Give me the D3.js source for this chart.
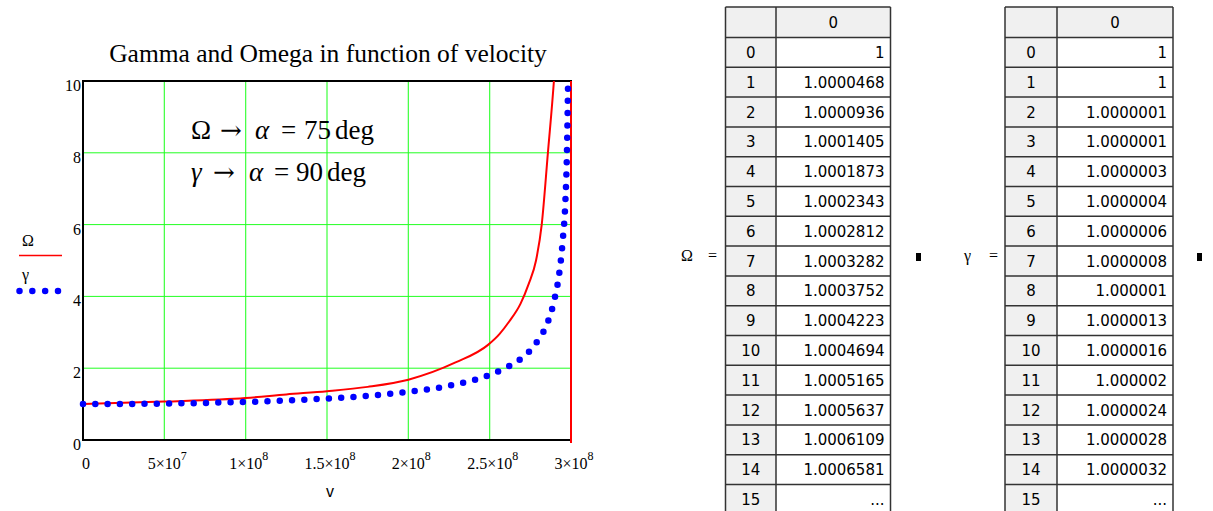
<!DOCTYPE html>
<html>
<head>
<meta charset="utf-8">
<script src="https://cdn.jsdelivr.net/npm/d3@7"></script>
<style>
  body { margin: 0; background: #fff; }
  svg { display: block; }
</style>
</head>
<body>
<div id="chart"></div>
<script>
// values (v in m/s)
const omegaV = [0, 5e7, 1e8, 1.25e8, 1.5e8, 1.75e8, 2e8, 2.29e8, 2.49e8, 2.56e8, 2.62e8, 2.69e8,
                2.74e8, 2.785e8, 2.82e8, 2.858e8, 2.895e8, 2.91e8, 2.95e8, 3e8, 3e8];
const omega  = [1, 1.07, 1.17, 1.27, 1.36, 1.48, 1.68, 2.16, 2.65, 2.95, 3.3, 3.8,
                4.35, 5.0, 6.0, 8.0, 10.0, 11.0, null, -1, 11];

const gammaV = [0, 2.5e7, 5e7, 7.5e7, 1e8, 1.25e8, 1.5e8, 1.75e8, 2e8, 2.25e8, 2.5e8,
                2.6e8, 2.7e8, 2.75e8, 2.8e8, 2.85e8, 2.9e8, 2.925e8, 2.95e8, 2.965e8,
                2.975e8, 2.985e8];
const gamma  = [1, 1.0035, 1.014, 1.033, 1.061, 1.098, 1.155, 1.23, 1.34, 1.51, 1.81,
                2.01, 2.29, 2.5, 2.8, 3.2, 3.95, 4.55, 5.6, 6.6, 8.0, 11.0];

const xTicks = [0, 5e7, 1e8, 1.5e8, 2e8, 2.5e8, 3e8];
const xTickBase = ['0', '5×10', '1×10', '1.5×10', '2×10', '2.5×10', '3×10'];
const xTickExp  = ['', '7', '8', '8', '8', '8', '8'];
const yTicks = [0, 2, 4, 6, 8, 10];

const rowIndex = d3.range(16);
const omegaTable = ['1', '1.0000468', '1.0000936', '1.0001405', '1.0001873', '1.0002343',
                    '1.0002812', '1.0003282', '1.0003752', '1.0004223', '1.0004694',
                    '1.0005165', '1.0005637', '1.0006109', '1.0006581', '...'];
const gammaTable = ['1', '1', '1.0000001', '1.0000001', '1.0000003', '1.0000004',
                    '1.0000006', '1.0000008', '1.000001', '1.0000013', '1.0000016',
                    '1.000002', '1.0000024', '1.0000028', '1.0000032', '...'];


const W = 1213, H = 511;
const serif = '"Liberation Serif", "Times New Roman", serif';

const svg = d3.select('#chart')
  .append('svg')
  .attr('width', W)
  .attr('height', H);

const x = d3.scaleLinear().domain([0, 3e8]).range([83, 571]);
const y = d3.scaleLinear().domain([0, 10]).range([440, 81]);

// grid
svg.append('g')
  .selectAll('line')
  .data(xTicks.slice(1, -1))
  .join('line')
  .attr('x1', d => x(d)).attr('x2', d => x(d))
  .attr('y1', y(0)).attr('y2', y(10))
  .attr('stroke', '#3cff3c').attr('stroke-width', 1.2);
svg.append('g')
  .selectAll('line')
  .data(yTicks.slice(1, -1))
  .join('line')
  .attr('x1', x(0)).attr('x2', x(3e8))
  .attr('y1', d => y(d)).attr('y2', d => y(d))
  .attr('stroke', '#22ff22').attr('stroke-width', 1);

// frame
svg.append('rect')
  .attr('x', x(0)).attr('y', y(10))
  .attr('width', x(3e8) - x(0)).attr('height', y(0) - y(10))
  .attr('fill', 'none').attr('stroke', '#000').attr('stroke-width', 2);

svg.append('clipPath').attr('id', 'plotClip')
  .append('rect')
  .attr('x', x(0) - 8).attr('y', y(10))
  .attr('width', x(3e8) - x(0) + 16).attr('height', y(0) - y(10) + 3);

const plot = svg.append('g').attr('clip-path', 'url(#plotClip)');

const omegaPts = omegaV.map((v, i) => [v, omega[i]]);
const gammaPts = gammaV.map((v, i) => [v, gamma[i]]);

const line = d3.line()
  .defined(d => d[1] !== null)
  .x(d => x(d[0]))
  .y(d => y(d[1]))
  .curve(d3.curveMonotoneX);

plot.append('path')
  .datum(omegaPts)
  .attr('d', line)
  .attr('fill', 'none')
  .attr('stroke', '#ff0000')
  .attr('stroke-width', 2);

plot.append('path')
  .datum(gammaPts)
  .attr('d', line)
  .attr('fill', 'none')
  .attr('stroke', '#0000ff')
  .attr('stroke-width', 6.5)
  .attr('stroke-linecap', 'round')
  .attr('stroke-dasharray', '0 12.3');

// tick labels
svg.append('g')
  .selectAll('text')
  .data(yTicks)
  .join('text')
  .attr('x', 81)
  .attr('y', d => y(d) + 10)
  .attr('text-anchor', 'end')
  .attr('font-family', serif)
  .attr('font-size', 16)
  .text(d => d);

const xl = svg.append('g')
  .selectAll('text')
  .data(xTicks)
  .join('text')
  .attr('x', d => x(d) + 3)
  .attr('y', 469)
  .attr('text-anchor', 'middle')
  .attr('font-family', serif)
  .attr('font-size', 16);
xl.append('tspan').text((d, i) => xTickBase[i]);
xl.append('tspan')
  .attr('dy', -9)
  .attr('font-size', 12)
  .text((d, i) => xTickExp[i]);

svg.append('text')
  .attr('x', 330).attr('y', 497)
  .attr('text-anchor', 'middle')
  .attr('font-family', '"Liberation Sans", Arial, sans-serif')
  .attr('font-size', 16)
  .text('v');

// title
svg.append('text')
  .attr('x', 328).attr('y', 62)
  .attr('text-anchor', 'middle')
  .attr('font-family', serif)
  .attr('font-size', 25.5)
  .text('Gamma and Omega in function of velocity');

// annotation: symbol, degrees, baseline, x of each piece
const notes = [
  ['Ω', '75', 139, [191, 220, 255, 281, 304, 335]],
  ['γ', '90', 181, [191, 213, 249, 274, 296, 327]]
];
notes.forEach(([sym, deg, by, xs]) => {
  const t = svg.append('text')
    .attr('y', by)
    .attr('font-family', serif)
    .attr('font-size', 27);
  t.append('tspan').attr('x', xs[0])
    .attr('font-style', sym === 'γ' ? 'italic' : 'normal').text(sym);
  t.append('tspan').attr('x', xs[1])
    .attr('font-family', '"DejaVu Serif", serif').attr('font-size', 26).text('→');
  t.append('tspan').attr('x', xs[2]).attr('font-style', 'italic').text('α');
  t.append('tspan').attr('x', xs[3]).text('=');
  t.append('tspan').attr('x', xs[4]).text(deg);
  t.append('tspan').attr('x', xs[5]).text('deg');
});

// legend
svg.append('text').attr('x', 22).attr('y', 246)
  .attr('font-family', serif).attr('font-size', 16).text('Ω');
svg.append('line')
  .attr('x1', 19).attr('x2', 62).attr('y1', 255.5).attr('y2', 255.5)
  .attr('stroke', '#ff0000').attr('stroke-width', 1.5);
svg.append('text').attr('x', 22).attr('y', 280)
  .attr('font-family', serif).attr('font-size', 16).text('γ');
svg.append('line')
  .attr('x1', 19.5).attr('x2', 58).attr('y1', 291).attr('y2', 291)
  .attr('stroke', '#0000ff').attr('stroke-width', 6.5)
  .attr('stroke-linecap', 'round')
  .attr('stroke-dasharray', '0 12.83');

// tables
const rowTop = 37.5, rowH = 29.8, headTop = 7;
const tableFont = '"DejaVu Sans", Tahoma, sans-serif';

function drawTable(label, values, left, mid, right, labelX, eqX, squareX) {
  const g = svg.append('g');
  const bottom = rowTop + rowH * values.length;

  g.append('rect')
    .attr('x', left).attr('y', headTop)
    .attr('width', right - left).attr('height', bottom - headTop)
    .attr('fill', '#fff');
  g.append('rect')
    .attr('x', left).attr('y', headTop)
    .attr('width', mid - left).attr('height', bottom - headTop)
    .attr('fill', '#f0f0f0');
  g.append('rect')
    .attr('x', mid).attr('y', headTop)
    .attr('width', right - mid).attr('height', rowTop - headTop)
    .attr('fill', '#f0f0f0');

  const ys = [headTop].concat(rowIndex.map(i => rowTop + i * rowH));
  g.selectAll('line.h')
    .data(ys)
    .join('line')
    .attr('x1', left).attr('x2', right)
    .attr('y1', d => d).attr('y2', d => d)
    .attr('stroke', '#333').attr('stroke-width', 1.5);
  [left, mid, right].forEach(xx => {
    g.append('line')
      .attr('x1', xx).attr('x2', xx)
      .attr('y1', headTop).attr('y2', bottom)
      .attr('stroke', '#333').attr('stroke-width', 1.5);
  });

  g.append('text')
    .attr('x', (mid + right) / 2).attr('y', headTop + 21)
    .attr('text-anchor', 'middle')
    .attr('font-family', tableFont).attr('font-size', 15)
    .text('0');

  g.selectAll('text.idx')
    .data(rowIndex)
    .join('text')
    .attr('x', (left + mid) / 2)
    .attr('y', i => rowTop + i * rowH + 20.5)
    .attr('text-anchor', 'middle')
    .attr('font-family', tableFont).attr('font-size', 15)
    .text(i => i);

  g.selectAll('text.val')
    .data(values)
    .join('text')
    .attr('x', right - 6)
    .attr('y', (d, i) => rowTop + i * rowH + 20.5)
    .attr('text-anchor', 'end')
    .attr('font-family', tableFont).attr('font-size', 15)
    .text(d => d);

  svg.append('text')
    .attr('x', labelX).attr('y', 261)
    .attr('font-family', serif).attr('font-size', 16)
    .text(label);
  svg.append('text')
    .attr('x', eqX).attr('y', 261)
    .attr('font-family', serif).attr('font-size', 16)
    .text('=');
  svg.append('rect')
    .attr('x', squareX).attr('y', 253)
    .attr('width', 5).attr('height', 8)
    .attr('fill', '#000');
}

drawTable('Ω', omegaTable, 725.5, 776, 890.5, 681, 708, 916);
drawTable('γ', gammaTable, 1005, 1057, 1173, 964, 989, 1197);
</script>
</body>
</html>
